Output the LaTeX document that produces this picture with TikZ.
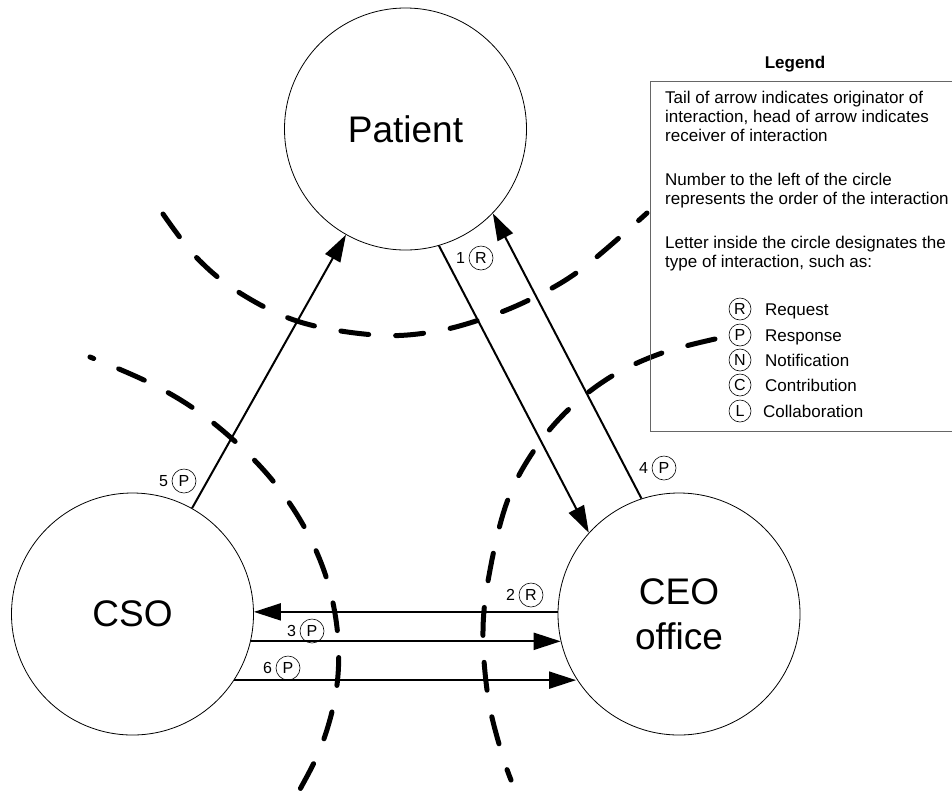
\documentclass[tikz,border=0pt]{standalone}
\usepackage{fontspec}
\setmainfont{Liberation Sans}
\usetikzlibrary{arrows.meta}
\begin{document}
\begin{tikzpicture}[x=1pt,y=-1pt,
  actor/.style={circle, draw, line width=0.8pt, minimum size=242pt, inner sep=0pt,
    font=\fontsize{37}{45}\selectfont, align=center},
  flow/.style={line width=2pt, -{Triangle[length=27pt,width=17pt]}},
  zone/.style={line width=5pt, line cap=round, dash pattern=on 28pt off 27pt},
  tag/.style={circle, draw, line width=0.6pt, minimum size=24pt, inner sep=0pt,
    font=\fontsize{16}{16}\selectfont},
  num/.style={inner sep=0pt, anchor=east, font=\fontsize{16}{16}\selectfont},
  keytag/.style={tag, minimum size=22pt, font=\fontsize{16}{16}\selectfont},
  ltext/.style={inner sep=0pt, anchor=base west, font=\fontsize{17}{19}\selectfont},
  ]
\useasboundingbox (0,0) rectangle (952,796);

% the three parties
\node[actor] (patient) at (405.5,129) {Patient};
\node[actor] (cso) at (132.5,614) {CSO};
\node[actor] (ceo) at (679,614) {CEO\\office};

% boundaries around each party
\draw[zone] plot[smooth, tension=0.6] coordinates {(163,214) (197,258) (240,293) (300,322) (375,335) (432,332) (485,318) (535,297) (583,268) (647,213)};
\draw[zone, dash phase=24pt] plot[smooth, tension=0.6] coordinates {(90,357) (148,382) (196,410) (240,446) (277,486) (307,532) (328,583) (338,638) (336,692) (321,747) (297,795) (292,806)};
\draw[zone] plot[smooth, tension=0.6] coordinates {(715,339) (662,353) (612,376) (568,410) (533,452) (507,502) (490,570) (483,630) (488,697) (501,751) (511,780)};

% interactions
\draw[flow] (patient.-74.6) -- (ceo.138.6);
\draw[flow] (ceo.179) -- (ceo.179 -| cso.1);
\draw[flow] (cso.-13.9) -- (cso.-13.9 -| ceo.193.75);
\draw[flow] (ceo.108.4) -- (patient.-44.2);
\draw[flow] (cso) -- (patient);
\draw[flow] (cso.-33.05) -- (cso.-33.05 -| ceo.212.75);

% interaction tags
\node[tag] (t1) at (481,258) {R};
\node[num] (n1) at ([xshift=-3.5pt]t1.west) {1};
\node[tag] (t2) at (531,595) {R};
\node[num] (n2) at ([xshift=-3.5pt]t2.west) {2};
\node[tag] (t3) at (312,631) {P};
\node[num] (n3) at ([xshift=-3.5pt]t3.west) {3};
\node[tag] (t4) at (664,468) {P};
\node[num] (n4) at ([xshift=-3.5pt]t4.west) {4};
\node[tag] (t5) at (184,481) {P};
\node[num] (n5) at ([xshift=-3.5pt]t5.west) {5};
\node[tag] (t6) at (288,668) {P};
\node[num] (n6) at ([xshift=-3.5pt]t6.west) {6};

% legend
\node[inner sep=0pt, anchor=base, font=\fontsize{17}{19}\selectfont\bfseries] (ltitle) at (795,68) {Legend};
\draw[line width=1pt, black!60] (650,81) rectangle (975,431);
\node[ltext] (l1) at (665,103) {Tail of arrow indicates originator of};
\node[ltext] (l2) at (665,122) {interaction, head of arrow indicates};
\node[ltext] (l3) at (665,141) {receiver of interaction};
\node[ltext] (l4) at (665,185) {Number to the left of the circle};
\node[ltext] (l5) at (665,204) {represents the order of the interaction};
\node[ltext] (l6) at (665,248) {Letter inside the circle designates the};
\node[ltext] (l7) at (665,267) {type of interaction, such as:};

\node[keytag] (kR) at (740,309) {R};
\node[ltext] (kRt) at (765,315) {Request};
\node[keytag] (kP) at (740,335) {P};
\node[ltext] (kPt) at (765,341) {Response};
\node[keytag] (kN) at (740,360) {N};
\node[ltext] (kNt) at (765,366) {Notification};
\node[keytag] (kC) at (740,385) {C};
\node[ltext] (kCt) at (765,391) {Contribution};
\node[keytag] (kL) at (740,411) {L};
\node[ltext] (kLt) at (763,417) {Collaboration};
\end{tikzpicture}
\end{document}
